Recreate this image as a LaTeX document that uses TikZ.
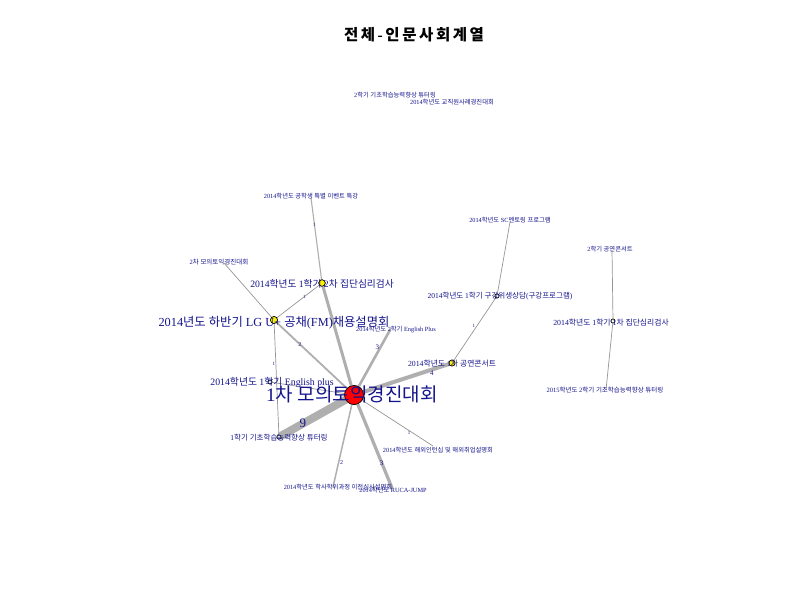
\documentclass[tikz,border=0pt]{standalone}
\usepackage{fontspec}
\setmainfont{Liberation Serif}
\newfontfamily\krfont{Noto Sans CJK KR}
\XeTeXinterchartokenstate=1
\newXeTeXintercharclass\krclass
\count255="AC00
\loop\XeTeXcharclass\count255=\krclass\advance\count255 by 1\ifnum\count255<"D7A4\repeat
\XeTeXcharclass`\(=0
\XeTeXcharclass`\)=0
\XeTeXinterchartoks 0 \krclass = {\krfont}
\XeTeXinterchartoks 4095 \krclass = {\krfont}
\XeTeXinterchartoks \krclass 0 = {\rmfamily}
\XeTeXinterchartoks \krclass 4095 = {\rmfamily}
\definecolor{navy}{RGB}{20,20,140}
\definecolor{eg}{RGB}{175,175,175}
\definecolor{et}{RGB}{150,150,150}
\newcommand{\fs}[1]{\fontsize{#1}{#1}\selectfont}
\begin{document}
\begin{tikzpicture}[x=1pt,y=-1pt,
  vx/.style={circle, draw=black, line width=0.6pt, inner sep=0pt},
  bigv/.style={vx, fill=red, minimum size=19pt},
  yelv/.style={vx, fill=yellow, minimum size=7pt},
  smv/.style={vx, fill=white, minimum size=4pt},
  lbl/.style={inner sep=0pt, text=navy},
  thick edge/.style={draw=eg, line cap=round},
  thin edge/.style={draw=et, line width=0.7pt},
  el/.style={text=navy, inner sep=0pt, font=\fs{6}}]
\fill[white] (0,0) rectangle (800,600);
\useasboundingbox (0,0) rectangle (800,600);
% vertices
\node[bigv] (main) at (354,395) {};
\node[yelv] (lg) at (274,320) {};
\node[yelv, minimum size=6.5pt] (g2) at (322,283) {};
\node[yelv, minimum size=6pt] (c1) at (452,363) {};
\node[smv] (gu) at (497,296) {};
\node[smv] (g1) at (613,321) {};
\node[smv] (t1) at (279,437) {};
\node[smv] (ep1) at (270,382) {};
\coordinate (ep2) at (390,330);
\coordinate (spec) at (311,198);
\coordinate (sc) at (510,222);
\coordinate (c2) at (612,250);
\coordinate (mo2) at (224,263);
\coordinate (tu2) at (606,390);
\coordinate (hw) at (433,446);
\coordinate (hs) at (333,487);
\coordinate (ru) at (392,488);
% edges
\draw[thick edge, line width=8pt] (main) -- node[el, pos=0.66, font=\fs{13}] {9} (t1);
\draw[thick edge, line width=4pt] (main) -- node[el, pos=0.8, yshift=-4pt, font=\fs{7}] {4} (c1);
\draw[thick edge, line width=3pt] (main) -- (g2);
\draw[thick edge, line width=2.6pt] (main) -- node[el, pos=0.69, xshift=-3pt, font=\fs{7}] {3} (ep2);
\draw[thick edge, line width=3.2pt] (main) -- node[el, pos=0.7, font=\fs{7}] {3} (ru);
\draw[thick edge, line width=1.8pt] (main) -- node[el, pos=0.67] {2} (lg);
\draw[thick edge, line width=1.5pt] (main) -- node[el, pos=0.7, xshift=3pt] {2} (hs);
\draw[thin edge] (main) -- node[el, pos=0.72, xshift=-4pt, font=\fs{5}] {1} (hw);
\draw[thin edge] (main) -- (ep1);
\draw[thin edge] (lg) -- node[el, pos=0.36, xshift=-2pt, font=\fs{5}] {1} (t1);
\draw[thin edge] (lg) -- node[el, pos=0.65, font=\fs{5}] {1} (g2);
\draw[thin edge] (lg) -- (mo2);
\draw[thick edge, line width=1.1pt] (g2) -- node[el, pos=0.67, font=\fs{5}] {1} (spec);
\draw[thin edge] (c1) -- node[el, pos=0.55, xshift=-3pt, font=\fs{5}] {1} (gu);
\draw[thin edge] (gu) -- (sc);
\draw[thin edge] (g1) -- (c2);
\draw[thin edge] (g1) -- (tu2);
% redraw vertices on top
\node[bigv] at (main) {};
\node[yelv] at (lg) {};
\node[yelv, minimum size=6.5pt] at (g2) {};
\node[yelv, minimum size=6pt] at (c1) {};
\node[smv] at (gu) {};
\node[smv] at (g1) {};
\node[smv] at (t1) {};
\node[smv] at (ep1) {};
% labels
\node[font=\fs{15.5}\bfseries, inner sep=0pt] (title) at (414,35) {전\,체\,-\,인\,문\,사\,회\,계\,열};
\node[lbl, font=\fs{6.3}] (l-ts2) at (395,95) {2학기 기초학습능력향상 튜터링};
\node[lbl, font=\fs{6.3}] (l-gc) at (452,102) {2014학년도 교직원사례경진대회};
\node[lbl, font=\fs{6.3}] (l-spec) at (311,196) {2014학년도 공학생 특별 이벤트 특강};
\node[lbl, font=\fs{6.3}] (l-sc) at (510,220) {2014학년도 SC멘토링 프로그램};
\node[lbl, font=\fs{6.3}] (l-c2) at (610,249) {2학기 공연콘서트};
\node[lbl, font=\fs{6.5}] (l-mo2) at (219,262) {2차 모의토익경진대회};
\node[lbl, font=\fs{9.7}] (l-g2) at (322,284) {2014학년도 1학기 2차 집단심리검사};
\node[lbl, font=\fs{7.5}] (l-gu) at (500,296) {2014학년도 1학기 구강위생상담(구강프로그램)};
\node[lbl, font=\fs{7.8}] (l-g1) at (611,323) {2014학년도 1학기 1차 집단심리검사};
\node[lbl, font=\fs{12.3}] (l-lg) at (274,323) {2014년도 하반기 LG U+ 공채(FM)채용설명회};
\node[lbl, font=\fs{6.3}] (l-ep2) at (396,330) {2014학년도 2학기 English Plus};
\node[lbl, font=\fs{7.8}] (l-c1) at (452,364) {2014학년도 1차 공연콘서트};
\node[lbl, font=\fs{9.8}] (l-ep1) at (272,382) {2014학년도 1학기 English plus};
\node[lbl, font=\fs{19}] (l-main) at (352,394) {1차 모의토익경진대회};
\node[lbl, font=\fs{6.5}] (l-tu2) at (605,390) {2015학년도 2학기 기초학습능력향상 튜터링};
\node[lbl, font=\fs{7.5}] (l-t1) at (279,438) {1학기 기초학습능력향상 튜터링};
\node[lbl, font=\fs{6.3}] (l-hw) at (438,450) {2014학년도 해외인턴십 및 해외취업설명회};
\node[lbl, font=\fs{6.3}] (l-hs) at (338,487) {2014학년도 학사학위과정 이전심사설명회};
\node[lbl, font=\fs{6.3}] (l-ru) at (393,490) {2014학년도 RUCA-JUMP};
\end{tikzpicture}
\end{document}
